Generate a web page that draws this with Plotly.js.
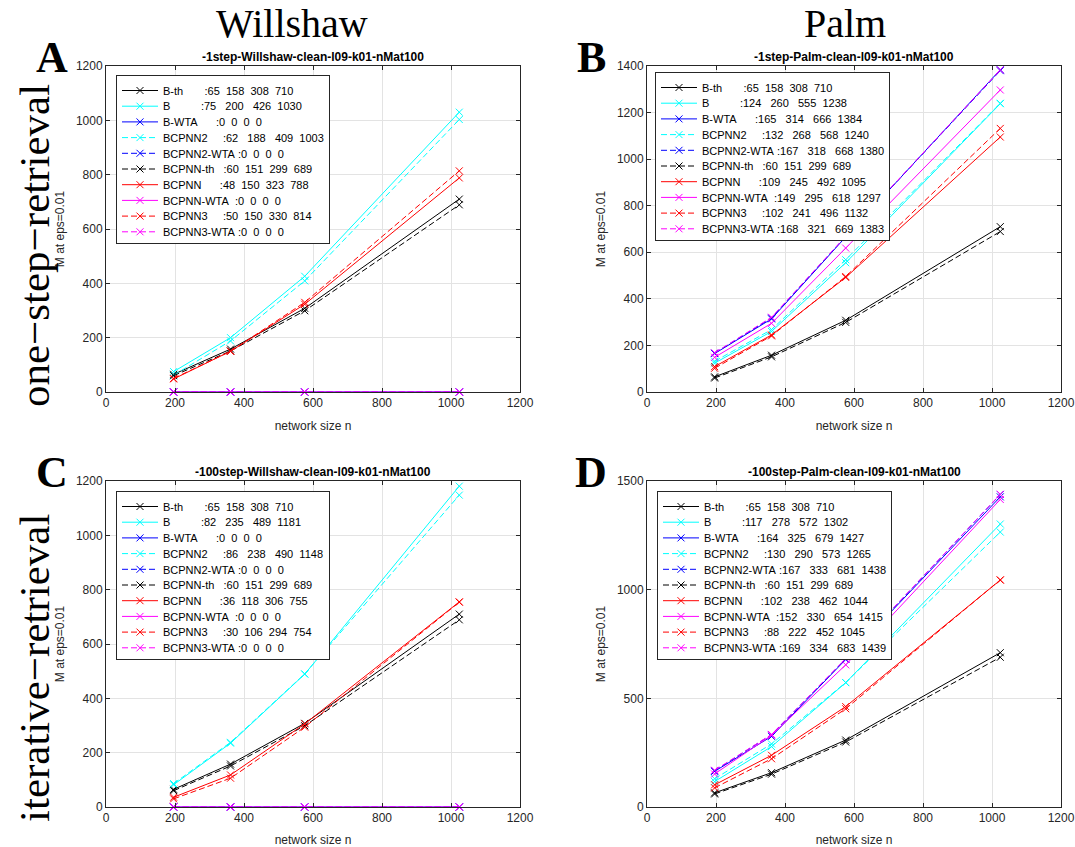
<!DOCTYPE html>
<html><head><meta charset="utf-8">
<script src="https://cdn.plot.ly/plotly-3.0.1.min.js"></script>
<style>html,body{margin:0;padding:0;background:#fff}#chart{width:1075px;height:847px}</style>
</head><body><div id="chart"></div>
<script>
// ---------------- data ----------------
const networkSize = [196, 361, 576, 1024];
const seriesNames = ['B-th','B','B-WTA','BCPNN2','BCPNN2-WTA','BCPNN-th','BCPNN','BCPNN-WTA','BCPNN3','BCPNN3-WTA'];
const seriesColors = ['#000000','#00ffff','#0000ff','#00ffff','#0000ff','#000000','#ff0000','#ff00ff','#ff0000','#ff00ff'];
const seriesDash = ['solid','solid','solid','dash','dash','dash','solid','solid','dash','dash'];

const willshaw1step = [
  [65,158,308,710],
  [75,200,426,1030],
  [0,0,0,0],
  [62,188,409,1003],
  [0,0,0,0],
  [60,151,299,689],
  [48,150,323,788],
  [0,0,0,0],
  [50,150,330,814],
  [0,0,0,0]
];
const palm1step = [
  [65,158,308,710],
  [124,260,555,1238],
  [165,314,666,1384],
  [132,268,568,1240],
  [167,318,668,1380],
  [60,151,299,689],
  [109,245,492,1095],
  [149,295,618,1297],
  [102,241,496,1132],
  [168,321,669,1383]
];
const willshaw100step = [
  [65,158,308,710],
  [82,235,489,1181],
  [0,0,0,0],
  [86,238,490,1148],
  [0,0,0,0],
  [60,151,299,689],
  [36,118,306,755],
  [0,0,0,0],
  [30,106,294,754],
  [0,0,0,0]
];
const palm100step = [
  [65,158,308,710],
  [117,278,572,1302],
  [164,325,679,1427],
  [130,290,573,1265],
  [167,333,681,1438],
  [60,151,299,689],
  [102,238,462,1044],
  [152,330,654,1415],
  [88,222,452,1045],
  [169,334,683,1439]
];
const panelTitles = [
  '-1step-Willshaw-clean-l09-k01-nMat100',
  '-1step-Palm-clean-l09-k01-nMat100',
  '-100step-Willshaw-clean-l09-k01-nMat100',
  '-100step-Palm-clean-l09-k01-nMat100'
];
const yMax = [1200, 1400, 1200, 1500];
const yStep = [200, 200, 200, 500];
const xTicks = [0, 200, 400, 600, 800, 1000, 1200];

// ---------------- helpers ----------------
const NB = '\u00a0';
function num2str(v) {
  const w = Math.max(...v.map(x => String(x).length)) + 2;
  return v.map(x => String(x).padStart(w, ' ')).join('').replace(/^ +/, '');
}
function legendName(name, vals) {
  return (name.padEnd(10, ' ') + ' :' + num2str(vals)).replace(/ /g, NB);
}

const panels = [willshaw1step, palm1step, willshaw100step, palm100step];
const axSuffix = ['', '2', '3', '4'];
const legendIds = ['legend', 'legend2', 'legend3', 'legend4'];

const traces = [];
panels.forEach((panel, p) => {
  panel.forEach((vals, i) => {
    traces.push({
      type: 'scatter', mode: 'lines+markers',
      x: networkSize, y: vals,
      xaxis: 'x' + axSuffix[p], yaxis: 'y' + axSuffix[p],
      legend: legendIds[p],
      name: legendName(seriesNames[i], vals),
      cliponaxis: false,
      line: {color: seriesColors[i], width: 1, dash: seriesDash[i] === 'dash' ? '6px,3px' : 'solid'},
      marker: {symbol: 'x-thin', size: 7, line: {color: seriesColors[i], width: 1}, color: seriesColors[i]}
    });
  });
});

const W = 1075, H = 847;
const xDomL = [106 / W, 520 / W];
const xDomR = [647 / W, 1061 / W];
const yDomT = [1 - 392 / H, 1 - 66 / H];
const yDomB = [1 - 807 / H, 1 - 481 / H];
const domains = [[xDomL, yDomT], [xDomR, yDomT], [xDomL, yDomB], [xDomR, yDomB]];

const tickFont = {family: 'Liberation Sans, Arial, sans-serif', size: 12, color: '#262626'};
const layout = {
  width: W, height: H,
  margin: {l: 0, r: 0, t: 0, b: 0},
  paper_bgcolor: '#ffffff', plot_bgcolor: '#ffffff',
  font: {family: 'Liberation Sans, Arial, sans-serif', size: 12, color: '#262626'},
  showlegend: true,
  annotations: []
};

const legendPos = [[116 / W, 1 - 75 / H], [655 / W, 1 - 72 / H], [116 / W, 1 - 491 / H], [657 / W, 1 - 491 / H]];

domains.forEach((d, p) => {
  const s = axSuffix[p];
  layout['xaxis' + s] = {
    domain: d[0], anchor: 'y' + s, range: [0, 1200],
    tickmode: 'array', tickvals: xTicks, ticktext: xTicks.map(String),
    ticks: 'inside', ticklen: 4, tickcolor: '#262626', tickwidth: 1,
    showline: true, linecolor: '#262626', linewidth: 1, mirror: 'ticks',
    showgrid: true, gridcolor: '#e3e3e3', gridwidth: 1, zeroline: false,
    tickfont: tickFont,
    title: {text: 'network size n', font: tickFont, standoff: 12}
  };
  const yt = [];
  for (let v = 0; v <= yMax[p]; v += yStep[p]) yt.push(v);
  layout['yaxis' + s] = {
    domain: d[1], anchor: 'x' + s, range: [0, yMax[p]],
    tickmode: 'array', tickvals: yt, ticktext: yt.map(String),
    ticks: 'inside', ticklen: 4, tickcolor: '#262626', tickwidth: 1,
    showline: true, linecolor: '#262626', linewidth: 1, mirror: 'ticks',
    showgrid: true, gridcolor: '#e3e3e3', gridwidth: 1, zeroline: false,
    tickfont: tickFont,
    title: {text: 'M at eps=0.01', font: tickFont, standoff: 8}
  };
  layout[legendIds[p]] = {
    x: legendPos[p][0], y: legendPos[p][1], xanchor: 'left', yanchor: 'top',
    xref: 'paper', yref: 'paper',
    bgcolor: '#ffffff', bordercolor: '#262626', borderwidth: 1,
    font: {family: 'Liberation Sans, Arial, sans-serif', size: 11, color: '#000000'},
    itemwidth: 36, tracegroupgap: 0
  };
  // subplot title
  layout.annotations.push({
    text: '<b>' + panelTitles[p] + '</b>', xref: 'paper', yref: 'paper',
    x: (d[0][0] + d[0][1]) / 2, y: d[1][1] + 0 / H, xanchor: 'center', yanchor: 'bottom',
    showarrow: false, font: {family: 'Liberation Sans, Arial, sans-serif', size: 12, color: '#000000'}
  });
});

const serif = 'Liberation Serif, Times New Roman, serif';
const bigText = [
  {t: 'Willshaw', x: 292, y: 0, a: 0, bold: false, size: 40, anchor: 'top'},
  {t: 'Palm', x: 845, y: 0, a: 0, bold: false, size: 40, anchor: 'top'},
  {t: 'A', x: 52, y: 58, a: 0, bold: true, size: 44, anchor: 'middle'},
  {t: 'B', x: 591, y: 58, a: 0, bold: true, size: 44, anchor: 'middle'},
  {t: 'C', x: 52, y: 473, a: 0, bold: true, size: 44, anchor: 'middle'},
  {t: 'D', x: 591, y: 473, a: 0, bold: true, size: 44, anchor: 'middle'},
  {t: 'one\u2212step\u2212retrieval', x: 34, y: 246, a: -90, bold: false, size: 43, anchor: 'middle'},
  {t: 'iterative\u2212retrieval', x: 34, y: 668, a: -90, bold: false, size: 43, anchor: 'middle'}
];
bigText.forEach(b => {
  layout.annotations.push({
    text: b.bold ? '<b>' + b.t + '</b>' : b.t, xref: 'paper', yref: 'paper',
    x: b.x / W, y: 1 - b.y / H, xanchor: 'center', yanchor: b.anchor,
    textangle: b.a, showarrow: false, borderpad: 0,
    font: {family: serif, size: b.size, color: '#000000'}
  });
});

Plotly.newPlot('chart', traces, layout, {displayModeBar: false, staticPlot: true}).then(gd => {
  // compact legend rows to match the reference's tighter row spacing
  try {
    const STEP = 15.7;
    document.querySelectorAll('.infolayer > g').forEach(g => {
      const cls = g.getAttribute('class') || '';
      if (!/^legend\d*$/.test(cls)) return;
      const items = g.querySelectorAll('.traces');
      if (items.length < 2) return;
      const ys = [];
      items.forEach(t => {
        const m = /translate\(\s*([-\d.e]+)[ ,]+([-\d.e]+)\s*\)/.exec(t.getAttribute('transform') || '');
        ys.push(m ? [parseFloat(m[1]), parseFloat(m[2])] : null);
      });
      if (ys.some(v => !v)) return;
      const old = ys[1][1] - ys[0][1];
      items.forEach((t, i) => t.setAttribute('transform', 'translate(' + ys[i][0] + ',' + (ys[0][1] + i * STEP) + ')'));
      const bg = g.querySelector('rect.bg');
      if (bg) {
        const h = parseFloat(bg.getAttribute('height'));
        bg.setAttribute('height', h - items.length * (old - STEP));
      }
    });
  } catch (e) {}
});
</script>
</body></html>
